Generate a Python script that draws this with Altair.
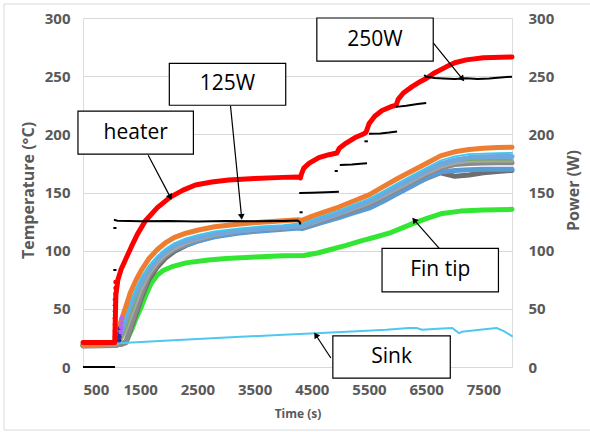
import math
import altair as alt
import pandas as pd

# ---------------- data ----------------
T_CL = [500, 1050, 1100, 1167, 1250, 1325, 1430, 1518, 1650, 1800, 1939, 2100, 2300, 2518,
        2800, 3200, 3600, 4000, 4272, 4330, 4500, 4700, 4974, 5200, 5500, 5750, 6000, 6250,
        6500, 6750, 7000, 7250, 7500, 7750, 8000]
ORANGE = [19, 20, 30, 40, 52, 63.6, 75, 83, 93, 101, 106.6, 111.5, 115, 117.8, 120.5, 122.8,
          124.5, 125.8, 126.5, 126, 129.5, 133, 137.5, 142, 148, 155, 162, 168.5, 175, 181.5,
          185, 187, 188, 188.7, 189]
CYAN = [19, 19.5, 24, 32, 44, 56, 68, 77, 87, 95.5, 101.5, 106.5, 110.5, 113.5, 116.5, 119,
        120.8, 122, 123.5, 123, 126.5, 130, 134.5, 139, 144.5, 151, 158, 164.5, 171, 177.5,
        181, 183, 183.5, 183.8, 184]
LBLUE = [19, 19.5, 23, 30, 41, 52, 64, 73, 84, 93, 99, 104.5, 108.5, 111.5, 114.5, 117, 118.8,
         120, 121.5, 121, 124.5, 128, 132.5, 137, 142.5, 149, 155.5, 162, 168.5, 174.5, 178,
         180, 180.7, 181, 181]
LGRAY = [18.5, 19, 20, 24, 32, 42, 56, 67, 80, 90, 96.5, 102, 106.5, 110, 113.5, 116.5, 118.5,
         119.8, 121, 120.5, 123.5, 127, 131.5, 135.5, 141, 147, 153.5, 160, 166.5, 172, 175.5,
         177, 177.3, 177.5, 177.5]
GRAY = [18.5, 18.5, 19, 19.5, 21.5, 33, 49, 62, 78, 88.5, 95.5, 101.5, 106.2, 110, 113.7,
        116.5, 118.3, 119.5, 120.5, 120, 123, 126.5, 130.5, 134.5, 140, 146, 152.5, 159, 165.5,
        171, 174, 175, 175.3, 175.5, 175.5]
BLUE2 = [18.5, 19, 21, 26, 35, 46, 60, 70, 81, 90, 96, 101, 105, 108.5, 112, 115, 117, 118.5,
         119.5, 119, 121.5, 124.5, 128.5, 132, 136.5, 142.5, 149, 155.5, 162.5, 167.5, 169,
         169.5, 170, 170, 170]
DGRAY = [18, 18.5, 19, 19.5, 21, 31, 46, 59, 75, 86, 93.5, 99.5, 104.5, 108.5, 112.5, 115.5,
         117.5, 119, 120.5, 120, 123, 126, 130, 133.5, 139, 144.5, 150.5, 156.5, 162, 167, 164,
         165, 167, 168, 169]
TGREEN = [18.5, 19, 20, 24, 33, 44, 58, 69, 81, 91, 97.5, 103, 107.5, 111, 114.5, 117.5, 119.5,
          120.8, 122, 121.5, 124.5, 128, 132.5, 136.5, 142, 148, 154.5, 161, 167.5, 173, 176.5,
          177.8, 178, 178, 178]

T_FIN = [500, 1100, 1254, 1350, 1430, 1518, 1600, 1693, 1800, 1900, 2044, 2300, 2693, 3000,
         3518, 4000, 4360, 4600, 4798, 5100, 5377, 5600, 5851, 6050, 6254, 6500, 6781, 7100,
         7500, 8000]
V_FIN = [18.5, 19, 21.5, 32, 42, 51.6, 62, 72, 79, 83, 86, 89.5, 92, 93.3, 94.6, 95.6, 95.8,
         98, 100.6, 104.5, 108.6, 111.5, 115, 119, 123, 127.5, 132, 134, 135, 135.5]

T_HEAT = [500, 1055, 1075, 1110, 1167, 1250, 1342, 1450, 1588, 1800, 2026, 2250, 2465, 2750,
          3044, 3500, 4000, 4272, 4300, 4320, 4360, 4450, 4623, 4800, 4940, 4980, 5100, 5250,
          5412, 5450, 5500, 5600, 5728, 5900, 5974, 6010, 6100, 6254, 6400, 6500, 6650, 6851,
          7000, 7200, 7500, 8000]
V_HEAT = [21, 21, 62, 75, 84, 93, 103, 114, 125.5, 137, 146, 152, 156.5, 159, 160.8, 162, 163,
          163.4, 162.5, 166, 171, 175, 180, 182.5, 184, 188, 192.5, 197, 200.5, 202, 209, 215.5,
          220.5, 224, 225, 230, 235.5, 241, 245.5, 248, 253, 258, 261.5, 264, 265.8, 266.5]

T_RDOT = [1058, 1058, 1058, 1058, 1058, 1058, 1058, 1058, 1068, 1068, 1068]
V_RDOT = [22, 26, 31, 36.5, 42, 48, 53, 58, 63, 68, 73]
T_PDOT = [1160, 1170, 1175, 1180]
V_PDOT = [30, 34, 38, 42]
T_NDOT = [1130, 1135, 1140, 1145]
V_NDOT = [23, 26, 29, 33]

T_SINK = [1110, 2000, 3000, 4000, 4570, 5200, 5800, 6200, 6330, 6430, 6700, 6956, 7020, 7079,
          7120, 7400, 7728, 7850, 8000]
V_SINK = [20.4, 22.8, 25.3, 27.7, 29, 30.5, 32, 33.5, 33.5, 32, 32.8, 33.5, 31, 29, 30.2, 31.8,
          33.5, 31, 26.6]

# power (right axis), one list per recorded segment
PWR_T = [
    [500, 1060],
    [1030, 1085],
    [1030, 1085],
    [1040, 1100, 1500, 2000, 2500, 3000, 3500, 4000, 4250, 4290, 4300],
    [4285, 4340],
    [4280, 4500, 4750, 4974],
    [4900, 4955],
    [4990, 5200, 5350, 5465],
    [5420, 5480],
    [5500, 5700, 5850, 5991],
    [5974, 6150, 6350, 6500],
    [6465, 6500, 6650, 6800, 7000, 7200, 7400, 7600, 7800, 8000],
]
PWR_V = [
    [0, 0],
    [83.4, 83.4],
    [119.5, 119.5],
    [126.5, 125.8, 125.3, 125.5, 125, 125.4, 125.2, 125.6, 126, 124.5, 122.5],
    [133, 133],
    [149.6, 149.8, 150.2, 150.6],
    [168.5, 168.5],
    [173.7, 174, 174.8, 175.2],
    [194, 194],
    [200.5, 200.8, 201.5, 202.4],
    [223.6, 224.5, 226, 227],
    [251, 249.5, 248.5, 248, 247.5, 248.2, 247.6, 248, 248.8, 249.6],
]

# annotations (data coordinates)
ANN_LABEL = ["heater", "125W", "250W", "Fin tip", "Sink"]
BOX_T0 = [412, 2009, 4588, 5728, 4868]
BOX_T1 = [2430, 4044, 6623, 7763, 6921]
BOX_V0 = [183, 225, 263, 64.5, -9.5]
BOX_V1 = [220, 261, 300, 102, 26.7]
ARR_T0 = [1640, 3079, 6623, 6728, 4833]
ARR_V0 = [182, 224.4, 278.6, 102, 7.7]
ARR_T1 = [2026, 3272, 7132, 6289, 4570]
ARR_V1 = [146, 129, 247.6, 126.4, 27.5]

X_TICKS = [500, 1500, 2500, 3500, 4500, 5500, 6500, 7500]
Y_TICKS = [0, 50, 100, 150, 200, 250, 300]

# ---------------- chart ----------------
W, H = 429, 349
XDOM, YDOM = [500, 8000], [0, 300]
FONT = "Open Sans"
GREY_TXT = "#595959"

xscale = alt.Scale(domain=XDOM, nice=False, zero=False)
yscale = alt.Scale(domain=YDOM, nice=False)

x_axis = alt.Axis(values=X_TICKS, format="d", grid=False, domain=False, ticks=False,
                  labelPadding=15, labelFont=FONT, labelFontWeight="bold", labelFontSize=15,
                  labelColor=GREY_TXT, title="Time (s)", titleFont=FONT,
                  titleFontWeight="bold", titleFontSize=12, titleColor=GREY_TXT, titleY=46,
                  titleBaseline="middle")
y_left = alt.Axis(orient="left", values=Y_TICKS, grid=True, gridColor="#d9d9d9", domain=False,
                  ticks=False, labelPadding=13, labelFont=FONT, labelFontWeight="bold",
                  labelFontSize=15, labelColor=GREY_TXT, title="Temperature (°C)",
                  titleFont=FONT, titleFontWeight="bold", titleFontSize=16, titleColor=GREY_TXT,
                  titleX=-55, titleY=172, titleAngle=270, titleAlign="center",
                  titleBaseline="middle")
y_right = alt.Axis(orient="right", values=Y_TICKS, grid=False, domain=False, ticks=False,
                   labelPadding=16, labelFont=FONT, labelFontWeight="bold", labelFontSize=15,
                   labelColor=GREY_TXT, title="Power (W)", titleFont=FONT,
                   titleFontWeight="bold", titleFontSize=16, titleColor=GREY_TXT,
                   titleX=61, titleY=172, titleAngle=270, titleAlign="center",
                   titleBaseline="middle")

X_ENC = dict(scale=xscale, axis=x_axis)


def line_layer(ts, vs, color, width):
    df = pd.DataFrame({"t": ts, "v": vs})
    return alt.Chart(df).mark_line(color=color, strokeWidth=width, strokeJoin="round",
                                   strokeCap="round").encode(
        x=alt.X("t:Q", **X_ENC),
        y=alt.Y("v:Q", scale=yscale, axis=y_left),
    )


def dot_layer(ts, vs, color, size):
    df = pd.DataFrame({"t": ts, "v": vs})
    return alt.Chart(df).mark_circle(color=color, size=size, opacity=1).encode(
        x=alt.X("t:Q", **X_ENC),
        y=alt.Y("v:Q", scale=yscale, axis=y_left),
    )


temp = alt.layer(
    line_layer(T_FIN, V_FIN, "#33e633", 5),
    line_layer(T_CL, DGRAY, "#6e6e6e", 5),
    line_layer(T_CL, BLUE2, "#5b9bd5", 5),
    line_layer(T_CL, GRAY, "#8a8a8a", 5),
    line_layer(T_CL, LGRAY, "#a5a5a5", 4),
    line_layer(T_CL, TGREEN, "#70ad47", 1.2),
    line_layer(T_CL, LBLUE, "#6fa8dc", 5),
    line_layer(T_CL, CYAN, "#3fc7f0", 1.8),
    line_layer(T_CL, ORANGE, "#ed7d31", 5),
    line_layer(T_SINK, V_SINK, "#4fc8f0", 2),
    dot_layer(T_NDOT, V_NDOT, "#2f2fa0", 22),
    dot_layer(T_PDOT, V_PDOT, "#b266ff", 22),
    line_layer(T_HEAT, V_HEAT, "#ff0000", 5),
    dot_layer(T_RDOT, V_RDOT, "#ff0000", 20),
)

pwr_rows = []
for i, (ts, vs) in enumerate(zip(PWR_T, PWR_V)):
    for t, v in zip(ts, vs):
        pwr_rows.append({"seg": i, "t": t, "v": v})
power = alt.Chart(pd.DataFrame(pwr_rows)).mark_line(color="black", strokeWidth=2).encode(
    x=alt.X("t:Q", **X_ENC),
    y=alt.Y("v:Q", scale=yscale, axis=y_right),
    detail="seg:N",
)

# annotations
sx, sy = W / (XDOM[1] - XDOM[0]), H / (YDOM[1] - YDOM[0])
angles = []
for t0, v0, t1, v1 in zip(ARR_T0, ARR_V0, ARR_T1, ARR_V1):
    dx = (t1 - t0) * sx
    dy = -(v1 - v0) * sy
    angles.append(math.degrees(math.atan2(dx, -dy)) % 360)

ann = pd.DataFrame({
    "label": ANN_LABEL, "bt0": BOX_T0, "bt1": BOX_T1, "bv0": BOX_V0, "bv1": BOX_V1,
    "at0": ARR_T0, "av0": ARR_V0, "at1": ARR_T1, "av1": ARR_V1, "ang": angles,
})
ann["tc"] = (ann["bt0"] + ann["bt1"]) / 2
ann["vc"] = (ann["bv0"] + ann["bv1"]) / 2

arrows = alt.Chart(ann).mark_rule(color="black", strokeWidth=1.2).encode(
    x=alt.X("at0:Q", **X_ENC), x2="at1:Q",
    y=alt.Y("av0:Q", scale=yscale, axis=None), y2="av1:Q",
)
heads = alt.Chart(ann).mark_point(shape="triangle-up", filled=True, color="black", size=45,
                                  opacity=1).encode(
    x=alt.X("at1:Q", **X_ENC),
    y=alt.Y("av1:Q", scale=yscale, axis=None),
    angle=alt.Angle("ang:Q", scale=None),
)
boxes = alt.Chart(ann).mark_rect(fill="white", stroke="black", strokeWidth=1.2).encode(
    x=alt.X("bt0:Q", **X_ENC), x2="bt1:Q",
    y=alt.Y("bv0:Q", scale=yscale, axis=None), y2="bv1:Q",
)
texts = alt.Chart(ann).mark_text(font=FONT, fontSize=21, color="black", align="center",
                                 baseline="middle").encode(
    x=alt.X("tc:Q", **X_ENC),
    y=alt.Y("vc:Q", scale=yscale, axis=None),
    text="label:N",
)
annot = alt.layer(arrows, heads, boxes, texts)

border = alt.Chart(pd.DataFrame({"a": [0]})).mark_rect(
    fill="transparent", stroke="#d9d9d9", strokeWidth=1).encode(
    x=alt.value(-79), x2=alt.value(520), y=alt.value(-14), y2=alt.value(412),
)

chart = alt.layer(temp, power, annot, border).resolve_scale(y="independent").properties(
    width=W, height=H,
    autosize=alt.AutoSizeParams(type="none"),
    padding={"left": 83, "top": 18, "right": 78, "bottom": 65},
).configure_view(strokeWidth=0).configure(background="white")

chart.save("out.html", embed_options={"renderer": "svg", "actions": False})
